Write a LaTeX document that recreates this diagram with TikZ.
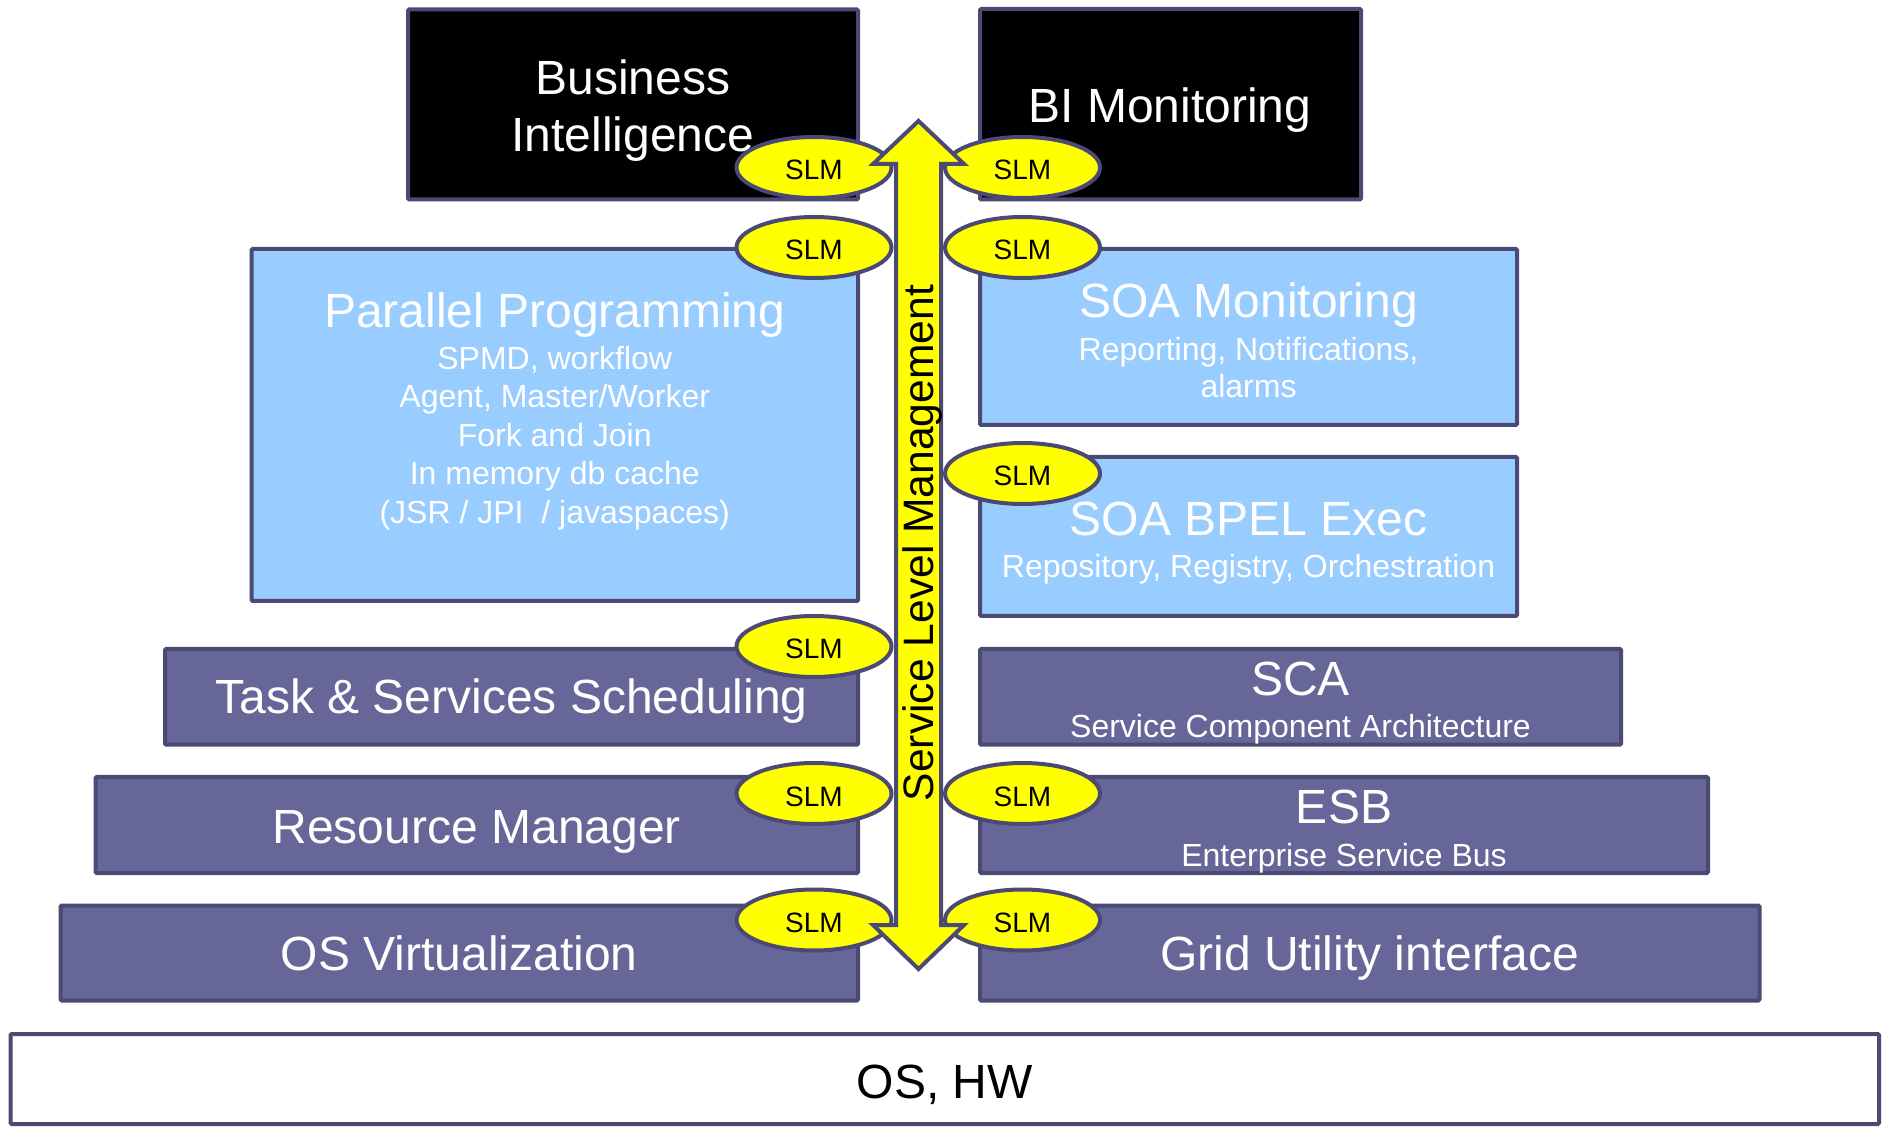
\documentclass[tikz,border=0pt]{standalone}
\usepackage{fontspec}
\setmainfont{Liberation Sans}
\usetikzlibrary{shapes.geometric}
\definecolor{bordc}{RGB}{74,74,117}
\definecolor{purp}{RGB}{102,102,153}
\definecolor{lblue}{RGB}{153,204,255}
\definecolor{slmy}{RGB}{255,255,0}
\begin{document}
\begin{tikzpicture}[x=0.5pt,y=-0.5pt,
  box/.style={draw=bordc, line width=2pt, rectangle, inner sep=0pt, rounded corners=0.6pt},
  darkbox/.style={box, fill=black},
  lbox/.style={box, fill=lblue},
  pbox/.style={box, fill=purp},
  wbox/.style={box, fill=white},
  big/.style={font=\fontsize{24}{28.8}\selectfont, text=white, anchor=base, inner sep=0pt},
  small/.style={font=\fontsize{16}{19.2}\selectfont, text=white, anchor=base, inner sep=0pt},
  slm/.style={ellipse, draw=bordc, line width=2pt, fill=slmy, minimum width=77.5pt, minimum height=30.5pt, inner sep=0pt, text height=12.5pt, text depth=0pt, font=\fontsize{14}{16}\selectfont},
  arr/.style={draw=bordc, line width=2pt, fill=slmy, line join=miter}
]
\useasboundingbox (0,0) rectangle (1885,1127);

% boxes
\node[darkbox, minimum width=225pt, minimum height=95pt] (bi) at (633,104.5) {};
\node[darkbox, minimum width=190.5pt, minimum height=95.25pt] (bim) at (1170.5,104.25) {};
\node[lbox, minimum width=303.25pt, minimum height=176pt] (pp) at (554.75,425) {};
\node[lbox, minimum width=268.5pt, minimum height=88pt] (soam) at (1248.5,337) {};
\node[lbox, minimum width=268.5pt, minimum height=79.5pt] (bpel) at (1248.5,536.5) {};
\node[pbox, minimum width=346.5pt, minimum height=47.85pt] (task) at (511.5,696.85) {};
\node[pbox, minimum width=320.5pt, minimum height=47.85pt] (sca) at (1300.5,696.85) {};
\node[pbox, minimum width=381.25pt, minimum height=48pt] (rm) at (476.75,825) {};
\node[pbox, minimum width=364pt, minimum height=48pt] (esb) at (1344,825) {};
\node[pbox, minimum width=398.75pt, minimum height=47.5pt] (osv) at (459.25,953) {};
\node[pbox, minimum width=389.75pt, minimum height=47.5pt] (grid) at (1369.75,953) {};
\node[wbox, minimum width=934.25pt, minimum height=45pt] (oshw) at (944.75,1079) {};

% texts
\node[big] (bi1) at (633,95) {Business};
\node[big] (bi2) at (633,152) {Intelligence};
\node[big] (bimt) at (1170,123) {BI Monitoring};

\node[big] (ppt) at (554.75,328) {Parallel Programming};
\node[small] (pp1) at (554.75,369.5) {SPMD, workflow};
\node[small] (pp2) at (554.75,408) {Agent, Master/Worker};
\node[small] (pp3) at (554.75,446.5) {Fork and Join};
\node[small] (pp4) at (554.75,485) {In memory db cache};
\node[small] (pp5) at (554.75,523.5) {(JSR / JPI \ / javaspaces)};

\node[big] (soamt) at (1248.5,317.5) {SOA Monitoring};
\node[small] (soam1) at (1248.5,360.5) {Reporting, Notifications,};
\node[small] (soam2) at (1248.5,397.5) {alarms};

\node[big] (bpelt) at (1248.5,536) {SOA BPEL Exec};
\node[small] (bpel1) at (1248.5,577.5) {Repository, Registry, Orchestration};

\node[big] (taskt) at (511.5,714) {Task \& Services Scheduling};
\node[big] (scat) at (1300.5,696) {SCA};
\node[small] (sca1) at (1300.5,737.5) {Service Component Architecture};

\node[big] (rmt) at (476.75,843) {Resource Manager};
\node[big] (esbt) at (1344,824) {ESB};
\node[small] (esb1) at (1344,866.5) {Enterprise Service Bus};

\node[big] (osvt) at (459.25,970) {OS Virtualization};
\node[big] (gridt) at (1369.75,970) {Grid Utility interface};
\node[big, text=black] (oshwt) at (944.75,1098) {OS, HW};

% SLM ellipses
\node[slm] (sl1) at (814,167.5) {SLM};
\node[slm] (sr1) at (1022.5,167.5) {SLM};
\node[slm] (sl2) at (814,247.5) {SLM};
\node[slm] (sr2) at (1022.5,247.5) {SLM};
\node[slm] (sr3) at (1022.5,473.5) {SLM};
\node[slm] (sl4) at (814,646.5) {SLM};
\node[slm] (sl5) at (814,793.5) {SLM};
\node[slm] (sr5) at (1022.5,793.5) {SLM};
\node[slm] (sl6) at (814,920) {SLM};
\node[slm] (sr6) at (1022.5,920) {SLM};

% double arrow
\coordinate (atop) at (918.5,121);
\coordinate (abot) at (918.5,969);
\draw[arr] (atop) -- (964,164) -- (941,164) -- (941,925) -- (964,925) -- (abot)
  -- (873,925) -- (896,925) -- (896,164) -- (873,164) -- cycle;
\node[font=\fontsize{21.3}{25}\selectfont, anchor=base, rotate=90, inner sep=0pt] (slmt) at (933.5,543) {Service Level Management};
\end{tikzpicture}
\end{document}
